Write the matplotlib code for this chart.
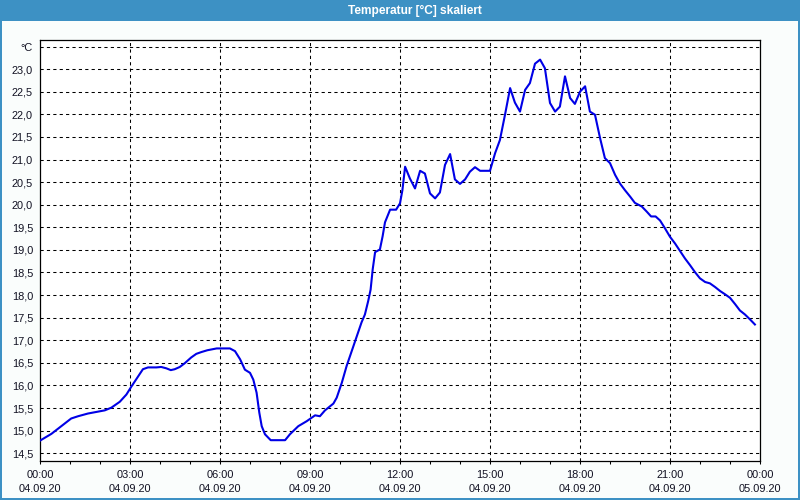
import matplotlib
matplotlib.use("Agg")
import matplotlib.pyplot as plt
from matplotlib.patches import Rectangle
from matplotlib.ticker import FixedLocator, MultipleLocator

# ---- data (hours since 04.09.20 00:00, temperature in °C) ----
hours = [0.00, 0.38, 0.71, 1.04, 1.27, 1.60, 1.93, 2.16, 2.38, 2.66, 2.88, 3.04,
         3.27, 3.43, 3.60, 3.88, 4.04, 4.21, 4.36, 4.49, 4.66, 4.82, 5.04, 5.21,
         5.38, 5.58, 5.89, 6.33, 6.50, 6.67, 6.83, 7.00, 7.11, 7.22, 7.31, 7.39,
         7.50, 7.69, 8.17, 8.33, 8.61, 8.89, 9.17, 9.33, 9.50, 9.78, 9.89, 10.06,
         10.22, 10.39, 10.56, 10.72, 10.83, 10.94, 11.02, 11.09, 11.17, 11.33,
         11.42, 11.50, 11.67, 11.87, 12.00, 12.08, 12.17, 12.33, 12.50, 12.67,
         12.83, 13.00, 13.17, 13.33, 13.50, 13.67, 13.83, 14.00, 14.17, 14.33,
         14.50, 14.67, 15.00, 15.17, 15.33, 15.50, 15.67, 15.83, 16.00, 16.17,
         16.33, 16.50, 16.67, 16.83, 17.00, 17.17, 17.33, 17.50, 17.67, 17.83,
         18.00, 18.17, 18.33, 18.50, 18.67, 18.83, 19.00, 19.17, 19.33, 19.50,
         19.67, 19.83, 20.06, 20.22, 20.37, 20.52, 20.67, 20.83, 21.00, 21.17,
         21.33, 21.50, 21.67, 21.83, 22.00, 22.17, 22.33, 22.50, 22.67, 22.83,
         23.00, 23.17, 23.33, 23.50, 23.67, 23.83]
temps = [14.78, 14.93, 15.10, 15.27, 15.32, 15.38, 15.42, 15.45, 15.51, 15.64, 15.80, 15.97,
         16.20, 16.36, 16.40, 16.40, 16.41, 16.38, 16.34, 16.36, 16.41, 16.49, 16.62, 16.70,
         16.74, 16.78, 16.82, 16.82, 16.76, 16.58, 16.35, 16.28, 16.13, 15.84, 15.40, 15.10,
         14.92, 14.79, 14.79, 14.92, 15.10, 15.21, 15.34, 15.32, 15.45, 15.60, 15.73, 16.06,
         16.43, 16.76, 17.09, 17.40, 17.57, 17.87, 18.12, 18.57, 18.95, 19.01,
         19.30, 19.61, 19.89, 19.89, 20.03, 20.32, 20.84, 20.58, 20.36, 20.75,
         20.69, 20.25, 20.14, 20.27, 20.88, 21.12, 20.56, 20.46, 20.56, 20.73,
         20.83, 20.75, 20.75, 21.14, 21.43, 21.99, 22.58, 22.26, 22.06, 22.54,
         22.69, 23.12, 23.21, 23.02, 22.25, 22.06, 22.17, 22.84, 22.36, 22.23,
         22.50, 22.62, 22.06, 21.99, 21.47, 21.03, 20.92, 20.66, 20.47, 20.32,
         20.18, 20.04, 19.96, 19.85, 19.74, 19.74, 19.65, 19.48, 19.29, 19.14,
         18.98, 18.81, 18.66, 18.51, 18.37, 18.29, 18.26, 18.18, 18.09, 18.02,
         17.94, 17.80, 17.66, 17.57, 17.46, 17.35]

x_tick_hours = [0, 3, 6, 9, 12, 15, 18, 21, 24]
x_tick_labels = ["00:00\n04.09.20", "03:00\n04.09.20", "06:00\n04.09.20",
                 "09:00\n04.09.20", "12:00\n04.09.20", "15:00\n04.09.20",
                 "18:00\n04.09.20", "21:00\n04.09.20", "00:00\n05.09.20"]
y_ticks = [14.5, 15.0, 15.5, 16.0, 16.5, 17.0, 17.5, 18.0, 18.5, 19.0,
           19.5, 20.0, 20.5, 21.0, 21.5, 22.0, 22.5, 23.0, 23.5]
y_tick_labels = ["14,5", "15,0", "15,5", "16,0", "16,5", "17,0", "17,5", "18,0",
                 "18,5", "19,0", "19,5", "20,0", "20,5", "21,0", "21,5", "22,0",
                 "22,5", "23,0", "°C"]
title = "Temperatur [°C] skaliert"

plt.rcParams['font.family'] = ['Liberation Sans', 'DejaVu Sans']
plt.rcParams['lines.scale_dashes'] = False

W, H = 800, 500
fig = plt.figure(figsize=(8, 5), dpi=100, facecolor='#FAFDFC')

# title bar and window border
bar_h = 21
fig.add_artist(Rectangle((0, 1 - bar_h / H), 1, bar_h / H, transform=fig.transFigure,
                         facecolor='#3D91C4', edgecolor='none', zorder=0))
border = '#3D91C4'
fig.add_artist(Rectangle((0, 0), 2 / W, 1, transform=fig.transFigure,
                         facecolor=border, edgecolor='none', zorder=0))
fig.add_artist(Rectangle((1 - 2 / W, 0), 2 / W, 1, transform=fig.transFigure,
                         facecolor=border, edgecolor='none', zorder=0))
fig.add_artist(Rectangle((0, 0), 1, 2 / H, transform=fig.transFigure,
                         facecolor=border, edgecolor='none', zorder=0))
fig.text(415 / W, 1 - 10.5 / H, title, color='white', fontsize=8.6,
         fontweight='bold', ha='center', va='center')

left, right, top, bottom = 40, 760, 40, 460.7
ax = fig.add_axes([left / W, 1 - bottom / H, (right - left) / W, (bottom - top) / H])
ax.set_facecolor('white')

ax.plot(hours, temps, color='#0000E6', lw=1.5, solid_joinstyle='round', zorder=3)

ax.set_xlim(0, 24)
ax.set_ylim(14.336, 23.644)

ax.xaxis.set_major_locator(FixedLocator(x_tick_hours))
ax.set_xticklabels(x_tick_labels, fontsize=7.9, linespacing=1.5)
ax.xaxis.set_minor_locator(MultipleLocator(1))
ax.tick_params(axis='x', which='both', direction='out', length=2.3, width=0.75,
               color='black', pad=4.2, labelcolor='#111122')

ax.set_yticks(y_ticks)
ax.set_yticklabels(y_tick_labels, fontsize=7.9)
ax.tick_params(axis='y', length=0, pad=5, labelcolor='#111122')

grid_style = dict(color='black', lw=0.75, linestyle=(0, (2.3, 2.3)), zorder=1)
for yv in y_ticks:
    ax.axhline(yv, **grid_style)
for xv in x_tick_hours[1:-1]:
    ax.axvline(xv, **grid_style)

for s in ax.spines.values():
    s.set_color('black')
    s.set_linewidth(0.9)

fig.savefig('out.png', dpi=100, facecolor=fig.get_facecolor())
